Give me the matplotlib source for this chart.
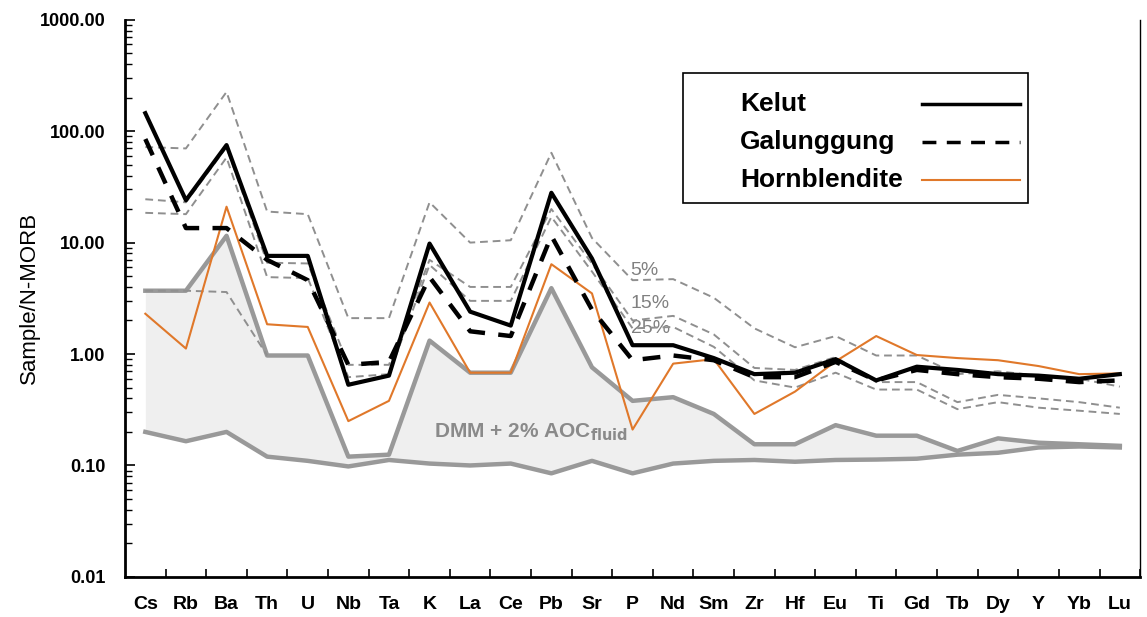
import matplotlib
matplotlib.use("Agg")
import matplotlib.pyplot as plt
from matplotlib.ticker import FixedLocator, NullFormatter, LogLocator
import numpy as np

plt.rcParams['font.family'] = ['Liberation Sans', 'DejaVu Sans']

elements = ["Cs", "Rb", "Ba", "Th", "U", "Nb", "Ta", "K", "La", "Ce", "Pb", "Sr",
            "P", "Nd", "Sm", "Zr", "Hf", "Eu", "Ti", "Gd", "Tb", "Dy", "Y", "Yb", "Lu"]

kelut = [145, 24, 75, 7.6, 7.6, 0.53, 0.64, 9.8, 2.4, 1.8, 28, 7.2,
         1.2, 1.2, 0.92, 0.66, 0.68, 0.9, 0.58, 0.77, 0.72, 0.66, 0.64, 0.6, 0.66]
galunggung = [85, 13.5, 13.5, 7.0, 4.6, 0.8, 0.85, 4.9, 1.6, 1.45, 11.5, 2.5,
              0.88, 0.97, 0.88, 0.62, 0.62, 0.85, 0.58, 0.72, 0.66, 0.62, 0.6, 0.56, 0.58]
hornblendite = [2.3, 1.12, 21, 1.85, 1.75, 0.25, 0.38, 2.9, 0.68, 0.68, 6.4, 3.5,
                0.21, 0.82, 0.9, 0.29, 0.46, 0.86, 1.45, 0.98, 0.92, 0.88, 0.78, 0.66, 0.67]
dmm_upper = [3.7, 3.7, 11.5, 0.97, 0.97, 0.12, 0.125, 1.32, 0.68, 0.68, 3.9, 0.76,
             0.38, 0.41, 0.29, 0.155, 0.155, 0.23, 0.185, 0.185, 0.135, 0.175, 0.16, 0.155, 0.15]
dmm_lower = [0.2, 0.165, 0.2, 0.12, 0.11, 0.098, 0.112, 0.104, 0.1, 0.104, 0.085, 0.11,
             0.085, 0.104, 0.11, 0.112, 0.108, 0.112, 0.113, 0.115, 0.125, 0.13, 0.145, 0.148, 0.145]
dmm_alt = [3.7, 3.7, 3.6, 0.97]
melt_5 = [72, 70, 225, 19, 18, 2.1, 2.1, 23, 10, 10.5, 64, 11,
          4.6, 4.7, 3.2, 1.7, 1.15, 1.45, 0.97, 0.97, 0.66, 0.7, 0.64, 0.6, 0.51]
melt_15 = [24.5, 23, 72, 6.6, 6.5, 0.8, 0.8, 7.0, 4.0, 4.0, 20, 6.5,
           2.0, 2.2, 1.5, 0.75, 0.72, 0.94, 0.56, 0.56, 0.37, 0.43, 0.4, 0.37, 0.33]
melt_25 = [18.5, 18, 58, 4.9, 4.8, 0.62, 0.66, 6.3, 3.0, 3.0, 17, 5.5,
           1.7, 1.75, 1.16, 0.58, 0.5, 0.68, 0.48, 0.48, 0.32, 0.37, 0.33, 0.31, 0.29]

GRAY_LINE = "#999999"
GRAY_FILL = "#efefef"
DASH_GRAY = "#8f8f8f"
ORANGE = "#e0782a"

x = np.arange(len(elements))

fig = plt.figure(figsize=(11.47, 6.17), dpi=100)
ax = fig.add_axes([0.109, 0.065, 0.885, 0.903])

# DMM + fluid source field
ax.fill_between(x, dmm_lower, dmm_upper, color=GRAY_FILL, lw=0, zorder=1)
ax.plot(x, dmm_upper, color=GRAY_LINE, lw=3.2, zorder=2)
ax.plot(x, dmm_lower, color=GRAY_LINE, lw=3.2, zorder=2)
ax.plot(x[:len(dmm_alt)], dmm_alt, color=DASH_GRAY, lw=1.4, ls=(0, (4, 2.5)), zorder=2)

# melting curves
for vals in (melt_5, melt_15, melt_25):
    ax.plot(x, vals, color=DASH_GRAY, lw=1.4, ls=(0, (4, 2.5)), zorder=3)

ax.plot(x, hornblendite, color=ORANGE, lw=1.5, zorder=4)
ax.plot(x, galunggung, color="black", lw=3.2, ls=(0, (4, 3)), zorder=5)
ax.plot(x, kelut, color="black", lw=3.0, zorder=6)

ax.set_yscale('log')
ax.set_ylim(0.01, 1000)
ax.set_xlim(-0.5, 24.3)

ax.yaxis.set_major_locator(FixedLocator([0.01, 0.1, 1, 10, 100, 1000]))
ax.yaxis.set_minor_locator(LogLocator(base=10, subs=np.arange(2, 10)))
ax.yaxis.set_minor_formatter(NullFormatter())
ax.set_yticklabels(["0.01", "0.10", "1.00", "10.00", "100.00", "1000.00"],
                   fontsize=13, fontweight='bold')
ax.tick_params(axis='y', which='major', direction='in', length=7, width=1.2, pad=14)
ax.tick_params(axis='y', which='minor', direction='in', length=5, width=1.0)

ax.set_xticks(x)
ax.set_xticklabels(elements, fontsize=14, fontweight='bold')
ax.set_xticks(np.arange(len(elements)) + 0.5, minor=True)
ax.tick_params(axis='x', which='major', length=0, pad=14)
ax.tick_params(axis='x', which='minor', direction='in', length=6, width=1.2)

ax.set_ylabel("Sample/N-MORB", fontsize=16, labelpad=0)

for side in ('left', 'bottom'):
    ax.spines[side].set_linewidth(2.0)
ax.spines['top'].set_visible(False)
ax.spines['right'].set_linewidth(1.0)

# text labels
ax.text(11.95, 5.6, "5%", color="#808080", fontsize=14, ha='left', va='center', zorder=7)
ax.text(11.95, 2.85, "15%", color="#808080", fontsize=14, ha='left', va='center', zorder=7)
ax.text(11.95, 1.7, "25%", color="#808080", fontsize=14, ha='left', va='center', zorder=2)
ax.text(7.1, 0.2, r"DMM + 2% AOC$_{\mathbf{fluid}}$", color="#8a8a8a", fontsize=15,
        fontweight='bold', ha='left', va='center', zorder=7)

# legend box
lx0, ly0, lw_, lh_ = 0.55, 0.671, 0.34, 0.234
ax.add_patch(plt.Rectangle((lx0, ly0), lw_, lh_, transform=ax.transAxes,
                           facecolor='white', edgecolor='black', lw=1.2, zorder=8))
legend_rows = [("Kelut", dict(color='black', lw=2.5)),
               ("Galunggung", dict(color='black', lw=2.5, ls=(0, (4, 3)))),
               ("Hornblendite", dict(color=ORANGE, lw=1.5))]
for i, (name, style) in enumerate(legend_rows):
    yy = 0.849 - i * 0.068
    ax.text(lx0 + 0.056, yy, name, transform=ax.transAxes, fontsize=19,
            fontweight='bold', ha='left', va='center', zorder=9)
    ax.plot([0.785, 0.882], [yy, yy], transform=ax.transAxes, zorder=9, **style)

fig.savefig("out.png", dpi=100, facecolor='white')
